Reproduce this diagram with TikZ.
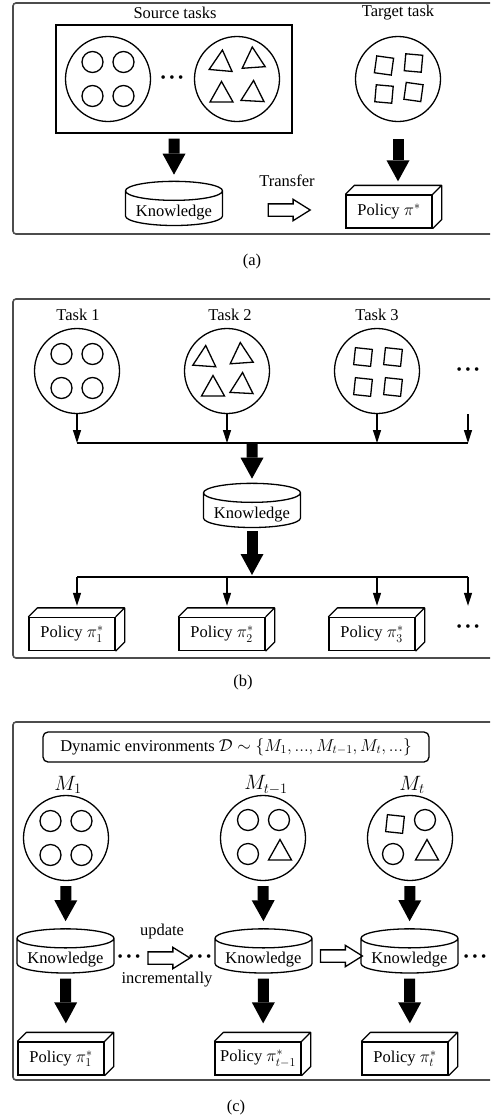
\documentclass[tikz,border=0pt]{standalone}
\usepackage{fontspec}
\setmainfont{Liberation Serif}
\usetikzlibrary{positioning,arrows.meta,calc,shapes.geometric,shapes.arrows}
\newcommand{\bdots}{\textbullet\kern3.6pt\textbullet\kern3.6pt\textbullet}

\begin{document}
\begin{tikzpicture}[x=1pt,y=-1pt,
  font=\fontsize{16.5}{19}\selectfont,
  panel/.style={draw=gray!60!black,line width=1.6pt,rounded corners=3pt},
  shp/.style={line width=1.3pt},
  task/.style={draw,circle,line width=1.3pt,minimum size=85pt,inner sep=0pt},
  know/.style={draw,cylinder,shape border rotate=90,aspect=0.25,line width=1.3pt,minimum width=97pt,minimum height=41pt,inner sep=0pt,text height=15pt,text depth=0pt},
  pol/.style={draw,line width=1.3pt,minimum width=86pt,minimum height=33pt,inner sep=0pt},
  hollow/.style={draw,single arrow,line width=1.3pt,minimum height=42pt,minimum width=20pt,single arrow head extend=4.5pt,single arrow tip angle=64,inner xsep=0pt,inner ysep=5.5pt},
  fat/.style={-{Triangle[width=23pt,length=21pt,line width=0pt]},line width=11pt,shorten <=5pt,shorten >=6pt},
  thin/.style={-{Triangle[width=8pt,length=13pt]},line width=1.3pt},
  dots/.style={font=\fontsize{15}{15}\selectfont,inner sep=0pt},
  mlbl/.style={font=\fontsize{20}{22}\selectfont},
]
\useasboundingbox (0,0) rectangle (490,1119);
\clip (0,0) rectangle (490,1119);

% (a) transfer learning
\draw[panel] (13,3) rectangle (505,234);
\node (srclbl) at (175,13) {Source tasks};
\node (tgtlbl) at (398,13) {Target task};
\node[draw,line width=1.3pt,minimum width=236pt,minimum height=108pt] (src) at (174,79) {};
\node[task] (s1) at (108,79) {};
\node[task] (s2) at (237,79) {};
\node[dots] (da) at (172,79) {\bdots};
\node[task] (tgt) at (398,79) {};
\node[know] (ka) at (174,208.5) {Knowledge};
\node[pol] (pa) at (389,211.5) {Policy $\pi^*$};
\node[hollow] (tr) at ($(ka.east)!0.5!(pa.west)$) {};
\node (trlbl) at (287,181) {Transfer};
\draw[fat] (src.south) -- (ka.north);
\draw[fat,shorten <=17pt,shorten >=13pt] (tgt.south) -- (tgt.south |- pa.north);
\node (capa) at (252,262) {(a)};

% (b) multi-task learning
\draw[panel] (13,299) rectangle (505,658);
\node (l1) at (78,315) {Task 1};
\node (l2) at (230,315) {Task 2};
\node (l3) at (377,315) {Task 3};
\node[task] (t1) at (77,371) {};
\node[task] (t2) at (227,371) {};
\node[task] (t3) at (377,371) {};
\node[dots] (db1) at (468,371) {\bdots};
\coordinate (bus1) at (252,443);
\coordinate (bus2) at (252,577);
\node[know] (kb) at (252,510.5) {Knowledge};
\node[pol] (p1) at (72,634) {Policy $\pi^*_1$};
\node[pol] (p2) at (222,634) {Policy $\pi^*_2$};
\node[pol] (p3) at (372,634) {Policy $\pi^*_3$};
\node[dots] (db2) at (468,628) {\bdots};
\foreach \t in {t1,t2,t3} \draw[thin] (\t.south) -- (\t.south |- bus1);
\draw[thin] (db1 |- t1.south) -- (db1 |- bus1);
\draw[line width=1.3pt] (t1 |- bus1) -- (db1 |- bus1);
\draw[fat,shorten <=1pt,shorten >=4pt] (bus1) -- (kb.north);
\draw[fat,shorten <=3pt,shorten >=2pt] (kb.south) -- (bus2);
\draw[line width=1.3pt] (t1 |- bus2) -- (db1 |- bus2);
\foreach \t/\p in {t1/p1,t2/p2,t3/p3} \draw[thin,shorten >=11pt] (\t |- bus2) -- (\t |- \p.north);
\draw[thin,shorten >=11pt] (db1 |- bus2) -- (db1 |- p1.north);
\node (capb) at (243,683) {(b)};

% (c) lifelong learning
\draw[panel] (13,722) rectangle (505,1080);
\node[draw,line width=1.3pt,rounded corners=5pt,minimum width=386pt,minimum height=30pt] (hdr) at (236,747)
  {Dynamic environments $\mathcal{D}\sim\{M_1,...,M_{t-1},M_t,...\}$};
\node[mlbl] (ml1) at (68,785) {$M_1$};
\node[mlbl] (ml2) at (266,785) {$M_{t-1}$};
\node[mlbl] (ml3) at (412,785) {$M_t$};
\node[task] (m1) at (66,838) {};
\node[task] (m2) at (263,838) {};
\node[task] (m3) at (410,838) {};
\node[know] (kc1) at (65.5,956) {Knowledge};
\node[know] (kc2) at (263.5,956) {Knowledge};
\node[know] (kc3) at (409.5,956) {Knowledge};
\node[pol] (pc1) at (61,1058.5) {Policy $\pi^*_1$};
\node[pol] (pc2) at (258,1058.5) {Policy $\pi^*_{t-1}$};
\node[pol] (pc3) at (405,1058.5) {Policy $\pi^*_t$};
\node[dots] (dc1) at (129,958) {\bdots};
\node[hollow] (ha1) at (164,958) {};
\node[dots] (dc2) at (200,958) {\bdots};
\node[hollow] (ha2) at ($(kc2.east)!0.5!(kc3.west)$) {};
\node[dots] (dc3) at (475,958) {\bdots};
\node (upd) at (162,932) {update};
\node (inc) at (167,980) {incrementally};
\foreach \m/\k/\p in {m1/kc1/pc1,m2/kc2/pc2,m3/kc3/pc3} {
  \draw[fat,shorten >=7pt] (\m.south) -- (\k.north);
  \draw[fat,shorten >=18pt] (\k.south) -- (\m.south |- \p.north);
}
\node (capc) at (236,1108) {(c)};

% box depth of the policies
\foreach \p in {pa,p1,p2,p3,pc1,pc2,pc3}
  \draw[line width=1.3pt,line join=round] (\p.north west) -- ++(9,-9) -| ([shift={(9,-9)}]\p.south east) -- (\p.south east)
    (\p.north east) -- ++(9,-9);

% little circles inside the tasks
\foreach \n in {s1,t1,m1}
  \foreach \dx/\dy in {-15.5/-17,15.5/-17,-15.5/17,15.5/17}
    \draw[shp] ($(\n)+(\dx,\dy)$) circle[radius=10.5];
\foreach \n/\dx/\dy in {m2/-15/-18,m2/16/-18,m2/-15/16,m3/15/-18,m3/-17/16}
  \draw[shp] ($(\n)+(\dx,\dy)$) circle[radius=10.5];
% triangles
\foreach \n/\dx/\dy/\r in {s2/-15.5/-18.5/-5,s2/16/-21.5/4,s2/-15.5/13/0,s2/16/12/-3,
    t2/-22/-15/-4,t2/14/-18/4,t2/-14/15/0,t2/15/12/-3,m2/17/12/0,m3/17/12/0}
  \draw[shp,shift={($(\n)+(\dx,\dy)$)},rotate=\r] (-11.5,10) -- (11.5,10) -- (0,-10.5) -- cycle;
% squares
\foreach \n/\dx/\dy/\r in {tgt/-14/-13.5/-8,tgt/15.5/-16/-5,tgt/-14/15/-5,tgt/15.5/13/-8,
    t3/-14/-14/-6,t3/16/-14/-6,t3/-14/16/-6,t3/16/16/-6,m3/-15/-14/-6}
  \draw[shp,shift={($(\n)+(\dx,\dy)$)},rotate=\r] (-8.5,-8.5) rectangle (8.5,8.5);
\end{tikzpicture}
\end{document}
